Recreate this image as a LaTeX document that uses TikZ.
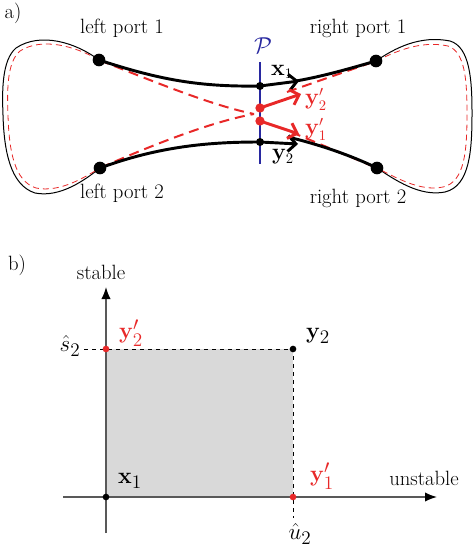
\documentclass[tikz,border=0pt]{standalone}
\usepackage{amsmath}
\usetikzlibrary{arrows.meta}
\definecolor{flowred}{RGB}{232,40,40}
\definecolor{secblue}{RGB}{40,40,160}
\definecolor{boxgray}{RGB}{217,217,217}
\tikzset{every picture/.style={line width=0.75pt}}

\begin{document}
\begin{tikzpicture}[x=0.75pt,y=0.75pt,yscale=-1,xscale=1,
    lbl/.style={inner sep=0.75pt,font=\fontsize{15.5}{18}\selectfont},
    mlbl/.style={inner sep=0.5pt,font=\fontsize{16}{19}\selectfont},
    blbl/.style={inner sep=0.75pt,font=\fontsize{19}{22}\selectfont},
    portdot/.style={circle,fill=black,inner sep=0pt,minimum size=9.5pt},
    secdot/.style={circle,fill=black,inner sep=0pt,minimum size=6pt},
    reddot/.style={circle,fill=flowred,inner sep=0pt,minimum size=7pt},
    smalldot/.style={circle,fill=black,inner sep=0pt,minimum size=5pt},
    flowarrow/.style={line width=2.2pt,-{Straight Barb[length=6pt,width=12pt]}},
    axisline/.style={line width=1.1pt,black!65,-{Latex[length=9pt,width=7pt,black]}}]
\useasboundingbox (0,0) rectangle (474,552);

% ---------- a) ----------
\coordinate (lp1) at (99,60);
\coordinate (lp2) at (100,168);
\coordinate (rp1) at (376,61);
\coordinate (rp2) at (377,168);
\coordinate (xa) at (260,86);
\coordinate (ya) at (260,142);
\coordinate (ya2) at (260,108);
\coordinate (ya1) at (260,121);
\coordinate (cross) at (254,114);

%Outer loops
\draw (lp1) .. controls (75,42) and (40,32) .. (16,48) .. controls (2,60) and (2,90) .. (3,115) .. controls (4,150) and (10,185) .. (35,193) .. controls (60,198) and (85,180) .. (lp2) ;
\draw (rp1) .. controls (395,48) and (420,35) .. (450,41) .. controls (470,47) and (472,80) .. (472,113) .. controls (472,150) and (470,186) .. (445,192) .. controls (420,197) and (395,180) .. (rp2) ;
%Inner dashed loops
\draw [flowred,line width=0.6pt,dash pattern={on 4.5pt off 3pt}] (lp1) .. controls (75,46) and (42,37) .. (20,51) .. controls (7,62) and (7,90) .. (8,115) .. controls (9,150) and (14,181) .. (36,188) .. controls (60,193) and (85,177) .. (lp2) ;
\draw [flowred,line width=0.6pt,dash pattern={on 4.5pt off 3pt}] (rp1) .. controls (395,52) and (420,40) .. (448,46) .. controls (465,52) and (467,80) .. (467,113) .. controls (467,150) and (465,182) .. (443,187) .. controls (420,192) and (395,177) .. (rp2) ;

%Dashed red crossing
\draw [flowred,line width=1.5pt,dash pattern={on 7.5pt off 4.5pt}] (lp1) .. controls (150,80) and (210,105) .. (cross) ;
\draw [flowred,line width=1.5pt,dash pattern={on 7.5pt off 4.5pt}] (lp2) .. controls (150,146) and (210,122) .. (cross) ;
\draw [flowred,line width=1.5pt,dash pattern={on 7.5pt off 4.5pt}] (287,92) -- (rp1) ;
\draw [flowred,line width=1.5pt,dash pattern={on 7.5pt off 4.5pt}] (291,132) -- (rp2) ;

%Thick black trajectories
\draw [line width=2.2pt] (lp1) .. controls (160,80) and (200,87) .. (xa) ;
\draw [line width=2.2pt] (lp2) .. controls (160,146) and (210,142) .. (ya) ;
\draw [line width=2.2pt] (296,81) .. controls (325,76) and (355,67) .. (rp1) ;
\draw [line width=2.2pt] (292,138) .. controls (320,145) and (350,155) .. (rp2) ;

%Section line
\draw [secblue,line width=2.2pt] (260,62) -- (260,164) ;

%Arrows
\draw [flowarrow] (xa) -- (299,81) ;
\draw [flowarrow] (ya) -- (298,144) ;
\draw [flowarrow,flowred] (ya2) -- (301,94) ;
\draw [flowarrow,flowred] (ya1) -- (299,134) ;

%Dots
\node [portdot] (nlp1) at (lp1) {};
\node [portdot] (nlp2) at (lp2) {};
\node [portdot] (nrp1) at (rp1) {};
\node [portdot] (nrp2) at (rp2) {};
\node [secdot] (nxa) at (xa) {};
\node [secdot] (nya) at (ya) {};
\node [reddot] (nya2) at (ya2) {};
\node [reddot] (nya1) at (ya1) {};

% Text Node
\draw (13,13) node [lbl] {a)};
% Text Node
\draw (122,28) node [lbl] {left port 1};
% Text Node
\draw (122,193) node [lbl] {left port 2};
% Text Node
\draw (358,28) node [lbl] {right port 1};
% Text Node
\draw (358,198) node [lbl] {right port 2};
% Text Node
\draw (263,46) node [mlbl,text=secblue] {$\mathcal{P}$};
% Text Node
\draw (282,72) node [mlbl] {$\mathbf{x}_1$};
% Text Node
\draw (316,99) node [mlbl,text=flowred] {$\mathbf{y}_2'$};
% Text Node
\draw (316,129) node [mlbl,text=flowred] {$\mathbf{y}_1'$};
% Text Node
\draw (283,157) node [mlbl] {$\mathbf{y}_2$};

% ---------- b) ----------
\coordinate (orig) at (106,497);
\coordinate (yb2) at (293,349);
\coordinate (yb2p) at (106,349);
\coordinate (yb1p) at (293,497);

\fill [boxgray] (orig) rectangle (yb2) ;
\draw [dashed] (84,349) -- (yb2) -- (293,518) ;
\draw [axisline] (106,533) -- (106,287) ;
\draw [axisline] (63,497) -- (437,497) ;

\node [smalldot] (nx1) at (orig) {};
\node [smalldot] (ny2) at (yb2) {};
\node [smalldot,fill=flowred] (ny2p) at (yb2p) {};
\node [smalldot,fill=flowred] (ny1p) at (yb1p) {};

% Text Node
\draw (17,265) node [lbl] {b)};
% Text Node
\draw (101,272) node [lbl] {stable};
% Text Node
\draw (424,478) node [lbl] {unstable};
% Text Node
\draw (70,346) node [blbl] {$\hat{s}_2$};
% Text Node
\draw (300,534) node [blbl] {$\hat{u}_2$};
% Text Node
\draw (131,333) node [blbl,text=flowred] {$\mathbf{y}_2'$};
% Text Node
\draw (318,336) node [blbl] {$\mathbf{y}_2$};
% Text Node
\draw (130,481) node [blbl] {$\mathbf{x}_1$};
% Text Node
\draw (322,476) node [blbl,text=flowred] {$\mathbf{y}_1'$};
\end{tikzpicture}
\end{document}
